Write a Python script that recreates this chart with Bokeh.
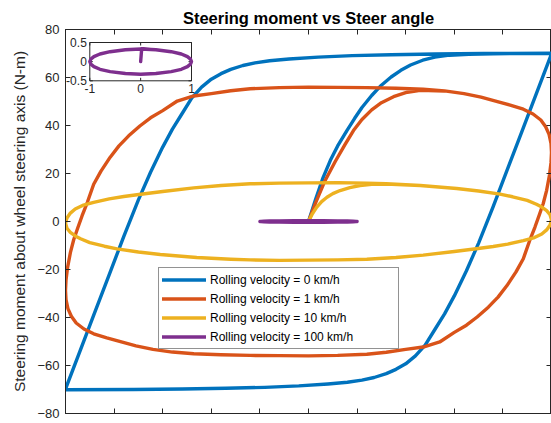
import numpy as np
from bokeh.plotting import figure
from bokeh.models import Range1d, LinearAxis, FixedTicker, Legend, LegendItem
from bokeh.core.properties import value
from bokeh.embed import file_html
from bokeh.resources import INLINE

FONT = "Liberation Sans"
AX = "#262626"

# ---------------- texts / ticks ----------------
title_text = "Steering moment vs Steer angle"
ylabel_text = "Steering moment about wheel steering axis (N-m)"
series_labels = ["Rolling velocity = 0 km/h", "Rolling velocity = 1 km/h",
                 "Rolling velocity = 10 km/h", "Rolling velocity = 100 km/h"]
series_colors = ["#0072BD", "#D95319", "#EDB120", "#7E2F8E"]
x_lim = [-5, 5]
y_lim = [-80, 80]
x_ticks = [-5, -4, -3, -2, -1, 0, 1, 2, 3, 4, 5]
y_ticks = [-80, -60, -40, -20, 0, 20, 40, 60, 80]
inset_x_lim = [-1, 1]
inset_y_lim = [-0.5, 0.5]
inset_x_ticks = [-1, 0, 1]
inset_x_labels = ["-1", "0", "1"]
inset_y_ticks = [-0.5, 0, 0.5]
inset_y_labels = ["-0.5", "0", "0.5"]

# ---------------- data ----------------
# 0 km/h: initial curve
blue_init_x = [0, 0.15, 0.3, 0.45, 0.6, 0.79, 0.95, 1.1, 1.3, 1.5, 1.7, 1.9, 2.1, 2.35, 2.6, 2.9, 3.3, 3.8, 4.4, 5.0]
blue_init_y = [0, 9.5, 18.3, 25.5, 31.5, 37.9, 43, 47.5, 52.5, 56.8, 60.2, 63, 65.2, 67.2, 68.5, 69.3, 69.7, 69.9, 70.0, 70.1]
# 0 km/h: descending branch (top-right corner down to bottom-left corner)
blue_down_x = [5.0, 4.7, 4.4, 4.1, 3.8, 3.5, 3.25, 3.0, 2.8, 2.6, 2.4, 2.2, 2.0, 1.8, 1.6, 1.35, 1.1, 0.8, 0.4,
               -0.2, -0.9, -1.7, -2.6, -3.6, -5.0]
blue_down_y = [69.8, 53.9, 38, 22.1, 6.2, -9, -20.5, -31, -38.5, -45, -51.5, -56, -59.3, -61.6, -63.4, -65.0,
               -66.1, -67.0, -67.7, -68.5, -69.1, -69.5, -69.8, -70.0, -70.1]
# 0 km/h: ascending branch (bottom-left corner up to top-right corner)
blue_up_x = [-5.0, -4.7, -4.4, -4.1, -3.8, -3.5, -3.25, -3.0, -2.8, -2.6, -2.4, -2.2, -2.0, -1.8, -1.6, -1.35,
             -1.1, -0.8, -0.4, 0.2, 0.9, 1.7, 2.6, 3.6, 5.0]
blue_up_y = [-69.8, -53.9, -38, -22.1, -6.2, 9, 20.5, 31, 38.5, 45, 51.5, 56, 59.3, 61.6, 63.4, 65.0,
             66.1, 67.0, 67.7, 68.5, 69.1, 69.5, 69.8, 70.0, 70.1]

# 1 km/h: initial curve
orange_init_x = [0, 0.15, 0.34, 0.55, 0.75, 0.925, 1.1, 1.3, 1.5, 1.75, 2.0, 2.3]
orange_init_y = [0, 8, 17, 25, 32, 37.9, 42.5, 46.5, 49.5, 52, 53.7, 54.7]
# 1 km/h: loop (top-right, right side down, bottom, left side up, top)
orange_loop_x = [2.8, 3.2, 3.55, 3.85, 4.15, 4.42, 4.62, 4.78, 4.88, 4.95, 4.99, 5.0,
                 4.99, 4.96, 4.9, 4.83, 4.75, 4.66, 4.55, 4.42, 4.27, 4.08, 3.9, 3.7, 3.47, 3.25, 3.0,
                 2.7, 2.36, 2.0, 1.6, 1.2, 0.6, 0,
                 -0.6, -1.2, -1.8, -2.36, -2.8, -3.2, -3.55, -3.85, -4.15, -4.42, -4.62, -4.78, -4.88,
                 -4.95, -4.99, -5.0,
                 -4.99, -4.96, -4.9, -4.83, -4.75, -4.66, -4.55, -4.42, -4.27, -4.08, -3.9, -3.7, -3.47,
                 -3.25, -3.0, -2.7, -2.36, -2.0, -1.6, -1.2, -0.6, 0, 0.6, 1.2, 1.8, 2.36, 2.8]
orange_loop_y = [54.4, 53.3, 51.8, 50.2, 48.5, 46.8, 44.8, 42.3, 39.5, 36.3, 32.5, 28.75,
                 24.5, 19.5, 13, 7.5, 2.8, -2.3, -8, -15.5, -21, -26.8, -31.5, -35.7, -39.8, -43.2, -46.2,
                 -50.2, -52.3, -53.3, -54.5, -55.3, -55.8, -56,
                 -55.9, -55.8, -55.5, -55.1, -54.4, -53.3, -51.8, -50.2, -48.5, -46.8, -44.8, -42.3, -39.5,
                 -36.3, -32.5, -28.75,
                 -24.5, -19.5, -13, -7.5, -2.8, 2.3, 8, 15.5, 21, 26.8, 31.5, 35.7, 39.8,
                 43.2, 46.2, 50.2, 52.3, 53.3, 54.5, 55.3, 55.8, 56, 55.9, 55.8, 55.5, 55.1, 54.4]

# 10 km/h: initial curve
yellow_init_x = [0, 0.08, 0.17, 0.27, 0.38, 0.5, 0.65, 0.85, 1.06, 1.3, 1.6]
yellow_init_y = [0, 3.2, 6, 8.3, 10.1, 11.6, 12.9, 14.1, 15, 15.5, 15.6]
# 10 km/h: loop
yellow_loop_x = [2.3, 3.05, 3.5, 3.94, 4.2, 4.5, 4.69, 4.8, 4.9, 4.97, 5.0,
                 4.97, 4.9, 4.8, 4.65, 4.42, 4.1, 3.8, 3.49, 3.0, 2.36, 1.8, 1.2, 0.6, 0,
                 -0.6, -1.2, -1.6, -2.3, -3.05, -3.5, -3.94, -4.2, -4.5, -4.69, -4.8, -4.9, -4.97, -5.0,
                 -4.97, -4.9, -4.8, -4.65, -4.42, -4.1, -3.8, -3.49, -3.0, -2.36, -1.8, -1.2, -0.6, 0,
                 0.6, 1.2, 1.6, 2.3]
yellow_loop_y = [15, 13.75, 12.7, 11.4, 10.3, 8.8, 7.2, 6.0, 4.5, 2.8, 0.7,
                 -1.5, -3.5, -5.2, -6.7, -8.0, -9.4, -10.4, -11.25, -12.5, -14.0, -15, -15.7, -16, -16.1,
                 -16.2, -16, -15.7, -15, -13.75, -12.7, -11.4, -10.3, -8.8, -7.2, -6.0, -4.5, -2.8, -0.7,
                 1.5, 3.5, 5.2, 6.7, 8.0, 9.4, 10.4, 11.25, 12.5, 14.0, 15, 15.7, 16, 16.1,
                 16.2, 16, 15.7, 15]

# 100 km/h (small loop, also shown magnified in the inset)
purple_x = [0, 0.02, 0.3, 0.6, 0.8, 0.92, 0.98, 1.0, 0.98, 0.92, 0.8, 0.6, 0.3, 0,
            -0.3, -0.6, -0.8, -0.92, -0.98, -1.0, -0.98, -0.92, -0.8, -0.6, -0.3, 0, 0.3]
purple_y = [0, 0.33, 0.31, 0.26, 0.2, 0.13, 0.066, 0, -0.066, -0.13, -0.2, -0.26, -0.31, -0.33,
            -0.31, -0.26, -0.2, -0.13, -0.066, 0, 0.066, 0.13, 0.2, 0.26, 0.31, 0.33, 0.31]

blue_x = blue_init_x + blue_down_x + blue_up_x
blue_y = blue_init_y + blue_down_y + blue_up_y
orange_x = orange_init_x + orange_loop_x
orange_y = orange_init_y + orange_loop_y
yellow_x = yellow_init_x + yellow_loop_x
yellow_y = yellow_init_y + yellow_loop_y

# ---------------- layout ----------------
W, H = 551, 423
LB, RB, TB, BB = 65, 0, 29, 10
frame_w = W - LB - RB
frame_h = H - TB - BB
# inset placement inside the frame (pixels)
in_left, in_w, in_top, in_h = 24.3, 101.7, 13.0, 38.3
LW = 3.4

p = figure(width=W, height=H, x_range=Range1d(*x_lim), y_range=Range1d(*y_lim),
           output_backend="svg", toolbar_location=None,
           min_border_left=LB, min_border_right=RB, min_border_top=TB, min_border_bottom=BB)
p.background_fill_color = "white"
p.border_fill_color = "white"
p.outline_line_color = AX
p.xgrid.grid_line_color = None
p.ygrid.grid_line_color = None

def style_axis(ax, ticks, labels=True):
    ax.ticker = FixedTicker(ticks=ticks)
    ax.axis_line_color = AX
    ax.axis_line_width = 1
    ax.major_tick_line_color = AX
    ax.major_tick_in = 5
    ax.major_tick_out = 0
    ax.minor_tick_line_color = None
    ax.major_label_text_font = FONT
    if labels:
        ax.major_label_text_color = AX
        ax.major_label_text_font_size = "13px"
        ax.major_label_standoff = 6
    else:
        ax.major_label_text_color = None
        ax.major_label_text_font_size = "1px"
        ax.major_label_standoff = 0

style_axis(p.xaxis[0], x_ticks, labels=False)
style_axis(p.yaxis[0], y_ticks, labels=True)
p.yaxis.axis_label = ylabel_text
p.yaxis.axis_label_text_font = FONT
p.yaxis.axis_label_text_font_size = "15.5px"
p.yaxis.axis_label_text_font_style = "normal"
p.yaxis.axis_label_text_color = AX
p.yaxis.axis_label_standoff = 6

top_ax = LinearAxis()
style_axis(top_ax, x_ticks, labels=False)
p.add_layout(top_ax, "above")
right_ax = LinearAxis()
style_axis(right_ax, y_ticks, labels=False)
p.add_layout(right_ax, "right")

p.title.text = title_text
p.title.text_font = FONT
p.title.text_font_size = "16.5px"
p.title.text_font_style = "bold"
p.title.text_color = "black"
p.title.align = "center"
p.title.standoff = 6

# ---------------- main curves ----------------
renderers = []
for xs, ys, col in [(blue_x, blue_y, series_colors[0]), (orange_x, orange_y, series_colors[1]),
                    (yellow_x, yellow_y, series_colors[2]), (purple_x, purple_y, series_colors[3])]:
    r = p.line(xs, ys, line_color=col, line_width=LW, line_join="round", line_cap="round")
    renderers.append(r)

legend = Legend(items=[LegendItem(label=l, renderers=[r]) for l, r in zip(series_labels, renderers)],
                location=(93, 64))
legend.border_line_color = AX
legend.border_line_width = 1
legend.background_fill_color = "white"
legend.background_fill_alpha = 1
legend.label_text_font = FONT
legend.label_text_font_size = "12px"
legend.label_text_color = "black"
legend.glyph_width = 44
legend.glyph_height = 17
legend.label_height = 17
legend.label_width = 185
legend.spacing = 2
legend.padding = 3
legend.margin = 0
legend.label_standoff = 4
p.add_layout(legend)

# ---------------- inset axes (own ranges) ----------------
ix_per_px = (inset_x_lim[1] - inset_x_lim[0]) / in_w
iy_per_px = (inset_y_lim[1] - inset_y_lim[0]) / in_h
ix_start = inset_x_lim[0] - in_left * ix_per_px
iy_end = inset_y_lim[1] + in_top * iy_per_px
p.extra_x_ranges = {"ix": Range1d(ix_start, ix_start + frame_w * ix_per_px)}
p.extra_y_ranges = {"iy": Range1d(iy_end - frame_h * iy_per_px, iy_end)}
kw = dict(x_range_name="ix", y_range_name="iy")

p.quad(left=[inset_x_lim[0]], right=[inset_x_lim[1]], bottom=[inset_y_lim[0]], top=[inset_y_lim[1]],
       fill_color="white", line_color=AX, line_width=1, **kw)
tl_y = 3 * iy_per_px
tl_x = 3 * ix_per_px
n = len(inset_x_ticks)
p.segment(x0=inset_x_ticks, x1=inset_x_ticks, y0=[inset_y_lim[0]] * n, y1=[inset_y_lim[0] + tl_y] * n,
          line_color=AX, line_width=1, **kw)
p.segment(x0=inset_x_ticks, x1=inset_x_ticks, y0=[inset_y_lim[1]] * n, y1=[inset_y_lim[1] - tl_y] * n,
          line_color=AX, line_width=1, **kw)
m = len(inset_y_ticks)
p.segment(x0=[inset_x_lim[0]] * m, x1=[inset_x_lim[0] + tl_x] * m, y0=inset_y_ticks, y1=inset_y_ticks,
          line_color=AX, line_width=1, **kw)
p.segment(x0=[inset_x_lim[1]] * m, x1=[inset_x_lim[1] - tl_x] * m, y0=inset_y_ticks, y1=inset_y_ticks,
          line_color=AX, line_width=1, **kw)
p.line(purple_x, purple_y, line_color=series_colors[3], line_width=LW, line_join="round",
       line_cap="round", **kw)
p.text(x=inset_x_ticks, y=[inset_y_lim[0]] * n, text=inset_x_labels, text_align="center",
       text_baseline="top", y_offset=3, text_font=value(FONT), text_font_size="12px",
       text_color=AX, **kw)
p.text(x=[inset_x_lim[0]] * m, y=inset_y_ticks, text=inset_y_labels, text_align="right",
       text_baseline="middle", x_offset=-3, text_font=value(FONT), text_font_size="12px",
       text_color=AX, **kw)

open("out.html", "w").write(file_html(p, INLINE))
